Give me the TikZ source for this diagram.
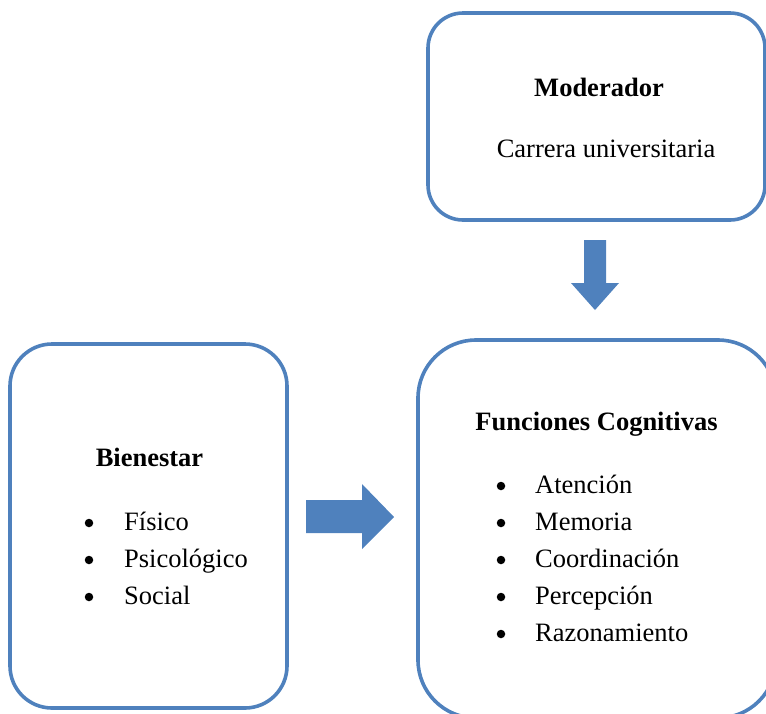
\documentclass[tikz,border=0pt]{standalone}
\usepackage{fontspec}
\setmainfont{Liberation Serif}
\definecolor{azul}{RGB}{79,129,189}
\tikzset{
	caja/.style={draw=azul,line width=3.6pt,rounded corners=#1,inner sep=0pt},
	titulo/.style={font=\bfseries,anchor=base,inner sep=0pt},
	texto/.style={anchor=base west,inner sep=0pt},
	vineta/.style={anchor=base,inner sep=0pt},
	punto/.style={circle,fill=black,inner sep=0pt,minimum size=8.5pt},
	flecha/.style={fill=azul,draw=none}
}
\begin{document}
\fontsize{26.5}{37}\selectfont
\begin{tikzpicture}[x=1pt,y=-1pt]
		\useasboundingbox (0,0) rectangle (766,713);
		% Cajas
		\node[caja=35pt,minimum width=337pt,minimum height=207pt] (moderador) at (596.5,116.5) {};
		\node[caja=42pt,minimum width=277pt,minimum height=364pt] (bienestar) at (148.5,526) {};
		\node[caja=58pt,minimum width=358pt,minimum height=378pt] (funciones) at (597,529) {};

		% Textos
		\node[titulo] (tmod) at (599,96) {Moderador};
		\node[vineta] (carrera) at (606,157) {Carrera universitaria};
		\node[titulo] (tbien) at (149.5,466) {Bienestar};
		\node[titulo] (tfun) at (596.5,430) {Funciones Cognitivas};

		\foreach \t [count=\i] in {Físico,Psicológico,Social}{
			\node[punto] (bb\i) at (89,523+37*\i-37) {};
			\node[texto] (b\i) at (124,530+37*\i-37) {\t};
			}
		\foreach \t [count=\i] in {Atención,Memoria,Coordinación,Percepción,Razonamiento}{
			\node[punto] (fb\i) at (501,486+37*\i-37) {};
			\node[texto] (f\i) at (535,493+37*\i-37) {\t};
			}

		% Flechas
		\fill[flecha] (584,240) -- (606,240) -- (606,283) -- (619,283) -- (595,310) -- (571,283) -- (584,283) -- cycle;
		\fill[flecha] (306,500) -- (362,500) -- (362,484) -- (394,517) -- (362,549) -- (362,533) -- (306,533) -- cycle;
		\end{tikzpicture}
\end{document}
